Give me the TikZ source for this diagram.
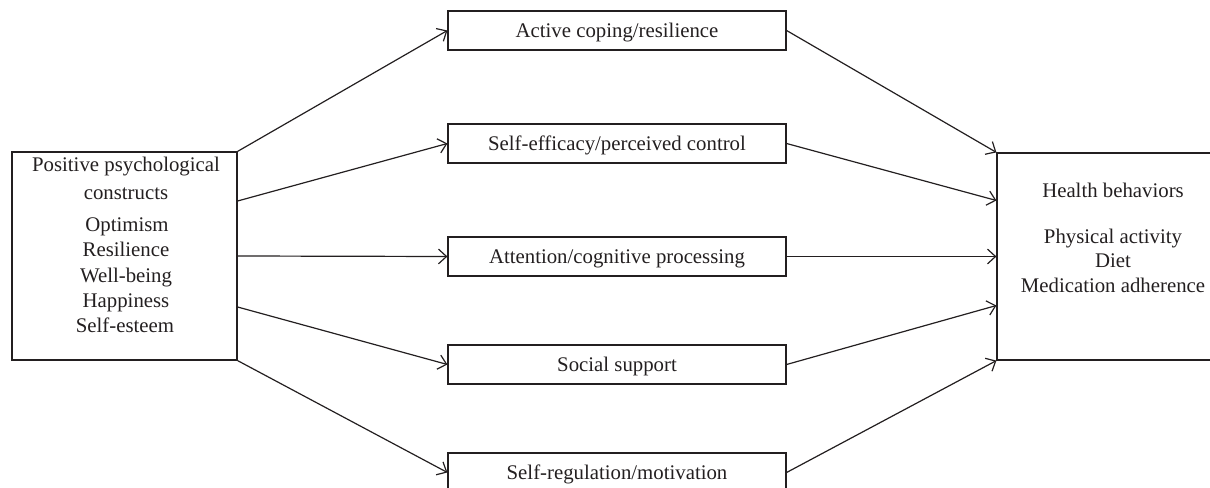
\documentclass[tikz,border=0pt]{standalone}
\usepackage{fontspec}
\setmainfont{Liberation Serif}
\usetikzlibrary{arrows.meta,calc}
\definecolor{ink}{HTML}{231F20}
\tikzset{
  box/.style={draw=ink, line width=0.9pt, rectangle, inner sep=0pt},
  midbox/.style={box, minimum width=253.5pt, minimum height=29.25pt,
    text height=14pt, text depth=3.5pt, font=\fontsize{15.6}{18}\selectfont, text=ink},
  txt/.style={anchor=base, inner sep=0pt, font=\fontsize{15.6}{18}\selectfont, text=ink},
  conn/.style={draw=ink, line width=0.9pt, -{Straight Barb[length=6pt,width=11pt,line width=0.9pt]}}
}
\begin{document}
\begin{tikzpicture}[x=0.75pt,y=-0.75pt]
\useasboundingbox (0,0) rectangle (1210,488);
\clip (0,0) rectangle (1210,488);
% side boxes
\node[box, minimum width=168.75pt, minimum height=156pt] (L) at (124.5,256) {};
\node[box, minimum width=182.25pt, minimum height=155.25pt] (R) at (1118.5,256.5) {};
% middle boxes
\node[midbox] (A) at (617,30.5) {Active coping/resilience};
\node[midbox] (S) at (617,143.5) {Self-efficacy/perceived control};
\node[midbox] (C) at (617,256.5) {Attention/cognitive processing};
\node[midbox] (P) at (617,364.5) {Social support};
\node[midbox] (M) at (617,472.5) {Self-regulation/motivation};
% left text
\node[txt] (l1) at (126,172) {Positive psychological};
\node[txt] (l2) at (126,200) {constructs};
\node[txt] (l3) at (127,232) {Optimism};
\node[txt] (l4) at (126,257) {Resilience};
\node[txt] (l5) at (126,282) {Well-being};
\node[txt] (l6) at (126,307) {Happiness};
\node[txt] (l7) at (125,332) {Self-esteem};
% right text
\node[txt] (r1) at (1113,198) {Health behaviors};
\node[txt] (r2) at (1113,244) {Physical activity};
\node[txt] (r3) at (1113,268) {Diet};
\node[txt] (r4) at (1113,292) {Medication adherence};
% connectors left -> middle
\draw[conn] (L.north east) -- (A.west);
\draw[conn] ($(L.east)+(0,-55)$) -- (S.west);
\draw[conn] (L.east) -- (C.west);
\draw[conn] ($(L.east)+(0,51)$) -- (P.west);
\draw[conn] (L.south east) -- (M.west);
% connectors middle -> right
\draw[conn] (A.east) -- (R.north west);
\draw[conn] (S.east) -- ($(R.west)+(0,-56)$);
\draw[conn] (C.east) -- (R.west);
\draw[conn] (P.east) -- ($(R.west)+(0,49)$);
\draw[conn] (M.east) -- (R.south west);
\end{tikzpicture}
\end{document}
